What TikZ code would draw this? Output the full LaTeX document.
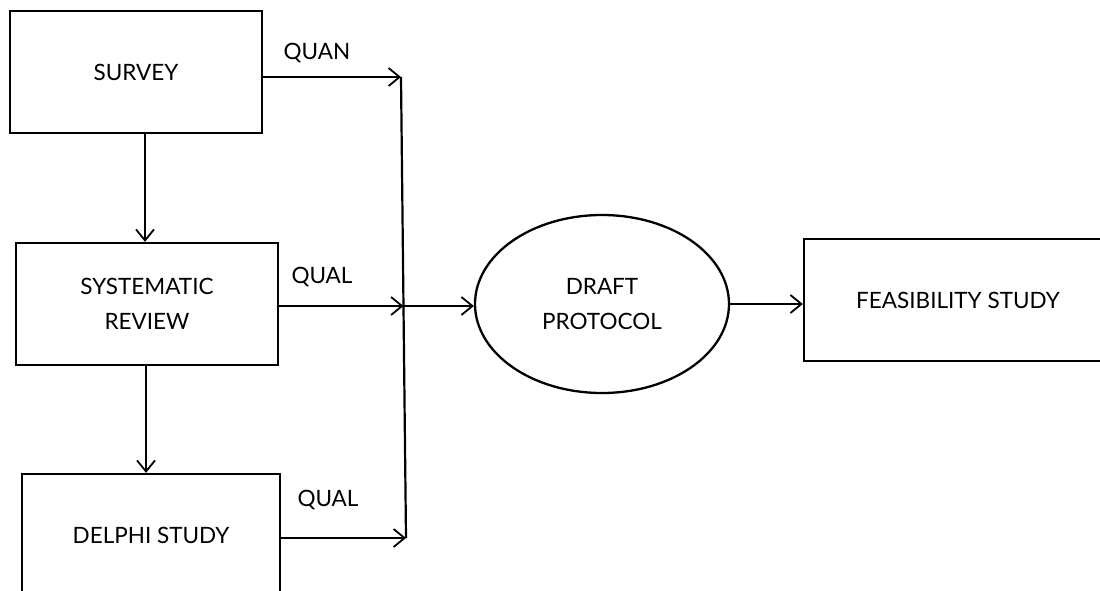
\documentclass[tikz,border=0pt]{standalone}
\usepackage{fontspec}
\setmainfont{Lato}
\usetikzlibrary{arrows.meta,shapes.geometric}
\begin{document}
\begin{tikzpicture}[x=1pt,y=-1pt,
  box/.style={draw=black,line width=2.3pt,rectangle,inner sep=0pt,align=center,
    font=\fontsize{22.5}{35}\selectfont},
  oval/.style={draw=black,line width=2.3pt,ellipse,inner sep=0pt,align=center,
    font=\fontsize{22.5}{35}\selectfont},
  lbl/.style={inner sep=0pt,font=\fontsize{22.5}{35}\selectfont},
  arr/.style={line width=1.8pt,-{Straight Barb[length=11pt,width=18pt,line width=1.8pt]}},
  ln/.style={line width=2.2pt}]
\useasboundingbox (0,0) rectangle (1100,590);
\clip (0,0) rectangle (1100,590);
\fill[white] (0,0) rectangle (1100,590);
\node[box,minimum width=252pt,minimum height=122pt] (survey) at (136,72) {SURVEY};
\node[box,minimum width=262pt,minimum height=122pt] (sr) at (147,304) {SYSTEMATIC\\REVIEW};
\node[box,minimum width=258pt,minimum height=122pt] (delphi) at (151,535) {DELPHI STUDY};
\node[oval,minimum width=254pt,minimum height=178pt] (draft) at (602,304) {DRAFT\\PROTOCOL};
\node[box,minimum width=308pt,minimum height=122pt] (feas) at (958,300) {FEASIBILITY STUDY};
\coordinate (vt) at (401,77);
\coordinate (vm) at (403.5,306);
\coordinate (vb) at (406,538);
\coordinate (c1) at (145,0);
\coordinate (c2) at (146,0);
\draw[ln] (vt) -- (vb);
\draw[arr] (survey.east |- vt) -- (vt);
\draw[arr] (sr.east |- vm) -- (vm);
\draw[arr] (delphi.east |- vb) -- (vb);
\draw[arr] (vm) -- (draft.west |- vm);
\draw[arr] (draft.east) -- (feas.west |- draft.east);
\draw[arr] (survey.south -| c1) -- (sr.north -| c1);
\draw[arr] (sr.south -| c2) -- (delphi.north -| c2);
\node[lbl] (quan) at (317,53) {QUAN};
\node[lbl] (qual1) at (322,277) {QUAL};
\node[lbl] (qual2) at (328,500) {QUAL};
\end{tikzpicture}
\end{document}
